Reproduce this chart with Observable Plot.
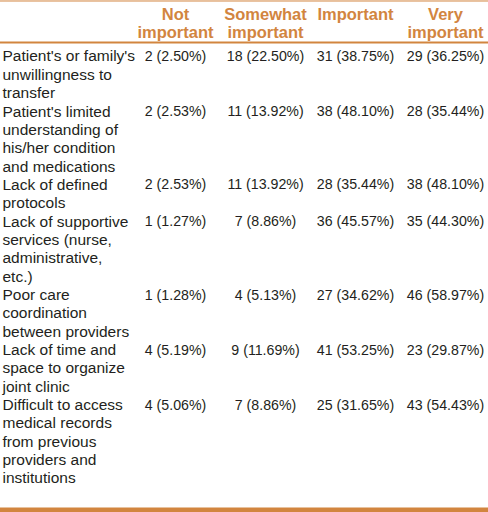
<!DOCTYPE html>
<html><head><meta charset="utf-8">
<script src="https://cdn.jsdelivr.net/npm/d3@7"></script>
<script src="https://cdn.jsdelivr.net/npm/@observablehq/plot@0.6"></script>
<style>
body{margin:0;background:#fff}
#chart svg{display:block}
</style>
</head><body><div id="chart"></div>
<script>
// ---- data ----
const columns = ["Not important", "Somewhat important", "Important", "Very important"];
const headerLines = [["Not", "important"], ["Somewhat", "important"], ["Important"], ["Very", "important"]];
const barrierLines = [
  ["Patient's or family's", "unwillingness to", "transfer"],
  ["Patient's limited", "understanding of", "his/her condition", "and medications"],
  ["Lack of defined", "protocols"],
  ["Lack of supportive", "services (nurse,", "administrative,", "etc.)"],
  ["Poor care", "coordination", "between providers"],
  ["Lack of time and", "space to organize", "joint clinic"],
  ["Difficult to access", "medical records", "from previous", "providers and", "institutions"]
];
const notImportantN = [2, 2, 2, 1, 1, 4, 4];
const notImportantPct = [2.50, 2.53, 2.53, 1.27, 1.28, 5.19, 5.06];
const somewhatImportantN = [18, 11, 11, 7, 4, 9, 7];
const somewhatImportantPct = [22.50, 13.92, 13.92, 8.86, 5.13, 11.69, 8.86];
const importantN = [31, 38, 28, 36, 27, 41, 25];
const importantPct = [38.75, 48.10, 35.44, 45.57, 34.62, 53.25, 31.65];
const veryImportantN = [29, 28, 38, 35, 46, 23, 43];
const veryImportantPct = [36.25, 35.44, 48.10, 44.30, 58.97, 29.87, 54.43];

// ---- build tables ----
const counts = [notImportantN, somewhatImportantN, importantN, veryImportantN];
const pcts = [notImportantPct, somewhatImportantPct, importantPct, veryImportantPct];
const labelRows = [];
const cells = [];
let line = 0;
barrierLines.forEach((lines, r) => {
  lines.forEach((t, k) => labelRows.push({line: line + k, text: t}));
  columns.forEach((c, j) => cells.push({col: c, line, text: `${counts[j][r]} (${pcts[j][r].toFixed(2)}%)`}));
  line += lines.length;
});
const headers = [];
columns.forEach((c, j) => headerLines[j].forEach((t, k) => headers.push({col: c, line: -2.3 + k, text: t})));

const orange = "#d2853f";
const ink = "#231f20";
const font = "Liberation Sans, Arial, sans-serif";

const chart = Plot.plot({
  width: 488,
  height: 512,
  margin: 0,
  style: {fontFamily: font, background: "#fff"},
  x: {type: "point", domain: columns, range: [174, 446], padding: 0, axis: null},
  y: {type: "linear", domain: [0, 23], range: [56, 478], axis: null},
  marks: [
    Plot.ruleY([-3.025], {stroke: orange, strokeWidth: 1}),
    Plot.ruleY([-0.76], {stroke: orange, strokeWidth: 2}),
    Plot.ruleY([24.72], {stroke: orange, strokeWidth: 5}),
    Plot.text(headers, {x: "col", y: "line", text: "text", fill: orange, fontWeight: "bold", fontSize: 16.5, textAnchor: "middle"}),
    Plot.text(labelRows, {y: "line", text: "text", frameAnchor: "left", dx: 2, textAnchor: "start", fill: ink, fontSize: 15.5}),
    Plot.text(cells, {x: "col", y: "line", text: "text", textAnchor: "middle", fill: ink, fontSize: 14.2})
  ]
});
document.getElementById("chart").append(chart);
</script>
</body></html>
